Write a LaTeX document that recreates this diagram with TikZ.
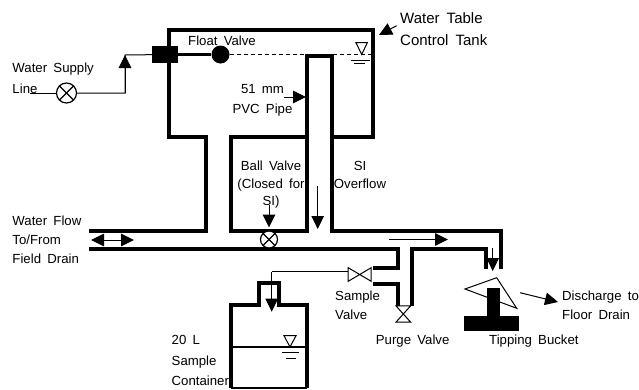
\documentclass[tikz,border=0pt]{standalone}
\usepackage{fontspec}
\setmainfont[WordSpace=1.7]{Liberation Sans}
\usetikzlibrary{arrows.meta}

\tikzset{
	pipe/.style = {line width=4pt, miter limit=10},
	thin line/.style = {line width=1pt},
	flow/.style = {line width=1pt, -{Triangle[length=13pt, width=12.5pt]}},
	flowboth/.style = {line width=1pt, {Triangle[length=13pt, width=12.5pt]}-{Triangle[length=13pt, width=12.5pt]}},
	lbl/.style = {inner sep=0pt, anchor=base west, font=\fontsize{13.2}{13}\selectfont},
	lblc/.style = {lbl, anchor=base},
	solid box/.style = {fill=black, draw=none, inner sep=0pt},
	ballvalve/.style = {circle, draw, line width=1.2pt, fill=white, inner sep=0pt, minimum size=#1,
		path picture={
			\draw [line width=1.2pt] (path picture bounding box.north west) -- (path picture bounding box.south east);
			\draw [line width=1.2pt] (path picture bounding box.north east) -- (path picture bounding box.south west);
		}},
	gatev/.style = {inner sep=0pt, minimum width=#1, outer sep=0pt},
}

\begin{document}
\begin{tikzpicture}[x=1pt, y=-1pt]
	\useasboundingbox (0,0) rectangle (639,389);

	% tank, overflow pipe, drain
	\draw [pipe] (89,231) -- (206,231) -- (206,137) -- (169,137) -- (169,30) -- (373,30) -- (373,137) -- (332,137);
	\draw [pipe] (231,137) rectangle (307,231);
	\draw [pipe] (307,137) -- (307,56) -- (332,56) -- (332,231) -- (501,231) -- (501,269);
	\draw [pipe] (89,249) -- (398,249) -- (398,268) -- (373,268);
	\draw [pipe] (373,284) -- (398,284) -- (398,306);
	\draw [pipe] (412,306) -- (412,249) -- (486,249) -- (486,269);

	% sample container
	\draw [pipe] (231,388) -- (231,305) -- (259,305) -- (259,283) -- (279,283) -- (279,305) -- (307,305) -- (307,388);
	\draw [line width=1.2pt] (231,388) -- (307,388);
	\draw [line width=1.4pt] (232,347) -- (306,347);

	% valves and float
	\coordinate (supply) at (30,93);
	\node (sv1) [ballvalve=20pt] at (66.5,93) {};
	\coordinate (riser) at (125,55);
	\node (inlet) [solid box, minimum width=26pt, minimum height=17pt] at (165,54.5) {};
	\node (float) [circle, solid box, minimum size=18pt] at (220.5,54.5) {};
	\node (bv) [ballvalve=17pt] at (269,239.5) {};
	\node (samplev) [gatev=23pt, minimum height=13.6pt] at (359.7,274.5) {};
	\node (purgev) [gatev=14.7pt, minimum height=16.3pt] at (403.3,314) {};
	\draw [thin line, fill=white] (samplev.north west) -- (samplev.south east) -- (samplev.north east) -- (samplev.south west) -- cycle;
	\draw [thin line, fill=white] (purgev.north west) -- (purgev.north east) -- (purgev.south west) -- (purgev.south east) -- cycle;

	% supply line
	\draw [thin line] (supply) -- (sv1);
	\draw [thin line] (sv1) -- (125,93) -- (riser) -- (inlet);
	\draw [flow] (125,93) -- (125,55);
	\draw [line width=2.6pt] (inlet) -- (float);

	% water levels
	\draw [thin line, dash pattern=on 4pt off 3pt] (float) -- (306,54.5);
	\draw [thin line, dash pattern=on 4pt off 3pt] (333,54.5) -- (372,54.5);
	\draw [thin line] (356,42.7) -- (367.3,42.7) -- (361.7,54.5) -- cycle;
	\draw [thin line] (350.7,60) -- (370,60);
	\draw [thin line] (354,63.5) -- (365,63.5);
	\draw [thin line] (284,335.7) -- (296,335.7) -- (290,347) -- cycle;
	\draw [thin line] (281.7,352.7) -- (299,352.7);
	\draw [thin line] (286,358) -- (296,358);

	% flow arrows
	\coordinate (tank) at (379,35);
	\draw [flow] (396.7,25.7) -- (tank);
	\draw [flow] (284,97) -- (306,97);
	\draw [flow] (317.7,186) -- (317.7,229);
	\draw [flow] (269,205) -- (269,227.5);
	\draw [flowboth] (91,240) -- (134,240);
	\draw [flow] (389,239.5) -- (448,239.5);
	\draw [flow] (492.7,248) -- (492.7,271);
	\draw [line width=1pt] (samplev.west) ++(0,-2.8) -- (271.7,271.7);
	\draw [flow] (271.7,271.7) -- (271.7,311.7);

	% tipping bucket
	\draw [thin line] (465,289) -- (496.7,277.7) -- (516.7,308.3) -- cycle;
	\node (stem) [solid box, minimum width=12.7pt, minimum height=29pt] at (493.6,302.5) {};
	\node (stand) [solid box, minimum width=55pt, minimum height=15.5pt] at (491.8,323.5) {};
	\draw [flow] (520,292.7) -- (558,302);

	% labels
	\node (l1) [lbl] at (12.3,72) {Water Supply};
	\node (l2) [lbl] at (12.3,93) {Line};
	\node (l3) [lbl] at (188,45.7) {Float Valve};
	\node (l4) [lblc] at (262.5,93.3) {51 mm};
	\node (l5) [lblc] at (262.5,113) {PVC Pipe};
	\node (l6) [lblc] at (271,170) {Ball Valve};
	\node (l7) [lblc] at (271,188) {(Closed for};
	\node (l8) [lblc] at (271,205) {SI)};
	\node (l9) [lblc] at (360,170) {SI};
	\node (l10) [lblc] at (360,188) {Overflow};
	\node (l11) [lbl, font=\fontsize{15}{15}\selectfont] at (400,23) {Water Table};
	\node (l12) [lbl, font=\fontsize{15}{15}\selectfont] at (400,45.7) {Control Tank};
	\node (l13) [lbl] at (12.3,225) {Water Flow};
	\node (l14) [lbl] at (12.3,244) {To/From};
	\node (l15) [lbl] at (12.3,263) {Field Drain};
	\node (l16) [lbl] at (171.5,344) {20 L};
	\node (l17) [lbl] at (171.5,365) {Sample};
	\node (l18) [lbl] at (171.5,385) {Container};
	\node (l19) [lbl] at (335,300) {Sample};
	\node (l20) [lbl] at (335,319) {Valve};
	\node (l21) [lbl] at (375.7,344) {Purge Valve};
	\node (l22) [lbl] at (489,344) {Tipping Bucket};
	\node (l23) [lbl] at (562,300) {Discharge to};
	\node (l24) [lbl] at (562,319) {Floor Drain};
\end{tikzpicture}
\end{document}
